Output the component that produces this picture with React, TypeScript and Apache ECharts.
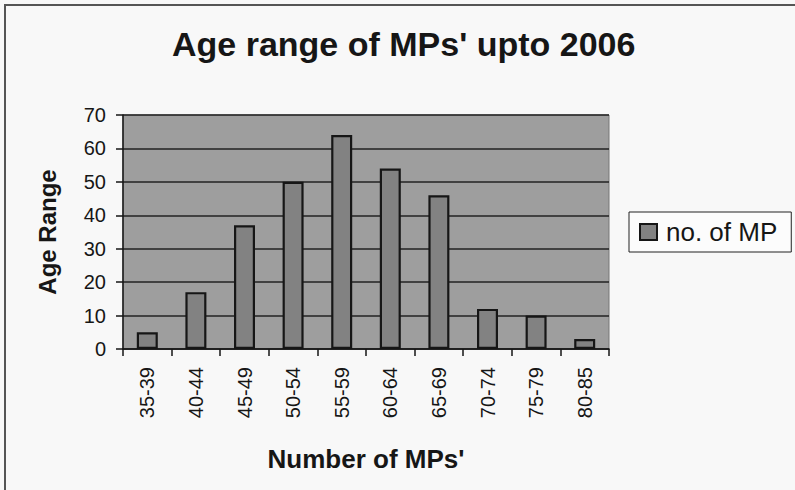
import React, { useEffect, useRef } from "react";
import * as echarts from "echarts";

// Age bands and how many MPs fall in each
const ageRanges = ["35-39", "40-44", "45-49", "50-54", "55-59", "60-64", "65-69", "70-74", "75-79", "80-85"];
const mpCounts = [5, 17, 37, 50, 64, 54, 46, 12, 10, 3];
const seriesName = "no. of MP";
const chartTitle = "Age range of MPs' upto 2006";
const yAxisTitle = "Age Range";
const xAxisTitle = "Number of MPs'";

const FONT = "'Liberation Sans', Arial, Helvetica, sans-serif";
const INK = "#161616";

export default function App() {
  const ref = useRef<HTMLDivElement>(null);

  useEffect(() => {
    if (!ref.current) return;
    const chart = echarts.init(ref.current, undefined, { renderer: "svg" });
    chart.setOption({
      animation: false,
      backgroundColor: "#f8f8f8",
      title: {
        text: chartTitle,
        left: 172,
        top: 27,
        padding: 0,
        textStyle: { fontFamily: FONT, fontSize: 34, fontWeight: "bold", color: INK },
      },
      graphic: [
        {
          type: "rect",
          shape: { x: 5, y: 5, width: 820, height: 520 },
          style: { fill: "none", stroke: "#555", lineWidth: 2 },
          silent: true,
        },
      ],
      legend: {
        data: [seriesName],
        left: 629,
        top: 212,
        orient: "vertical",
        padding: [7, 14, 7, 10],
        backgroundColor: "#fcfcfc",
        borderColor: "#222",
        borderWidth: 1,
        borderRadius: 0,
        itemWidth: 17,
        itemHeight: 16,
        icon: "rect",
        textStyle: { fontFamily: FONT, fontSize: 26, color: INK, padding: [0, 0, 0, 4] },
      },
      grid: {
        left: 123,
        right: 186,
        top: 115,
        bottom: 141,
        show: true,
        backgroundColor: "#9e9e9e",
        borderColor: "#777",
        borderWidth: 1,
      },
      xAxis: {
        type: "category",
        data: ageRanges,
        name: xAxisTitle,
        nameLocation: "middle",
        nameGap: 97,
        nameTextStyle: { fontFamily: FONT, fontSize: 26, fontWeight: "bold", color: INK },
        axisLine: { lineStyle: { color: INK, width: 1.5 } },
        axisTick: { show: true, length: 7, lineStyle: { color: INK, width: 1.5 } },
        axisLabel: {
          rotate: 90,
          margin: 18,
          interval: 0,
          fontFamily: FONT,
          fontSize: 20,
          color: INK,
        },
      },
      yAxis: {
        type: "value",
        min: 0,
        max: 70,
        interval: 10,
        name: yAxisTitle,
        nameLocation: "middle",
        nameGap: 64,
        nameTextStyle: { fontFamily: FONT, fontSize: 24, fontWeight: "bold", color: INK },
        axisLine: { show: true, lineStyle: { color: INK, width: 1.5 } },
        axisTick: { show: true, length: 7, lineStyle: { color: INK, width: 1.5 } },
        axisLabel: { margin: 17, fontFamily: FONT, fontSize: 20, color: INK },
        splitLine: { show: true, lineStyle: { color: "#222", width: 1.6 } },
      },
      series: [
        {
          name: seriesName,
          type: "bar",
          data: mpCounts,
          barWidth: 21,
          itemStyle: { color: "#828282", borderColor: INK, borderWidth: 2.2 },
        },
      ],
    });
    return () => chart.dispose();
  }, []);

  return (
    <div
      ref={ref}
      style={{ position: "fixed", left: 0, top: 0, width: 795, height: 490 }}
    />
  );
}
